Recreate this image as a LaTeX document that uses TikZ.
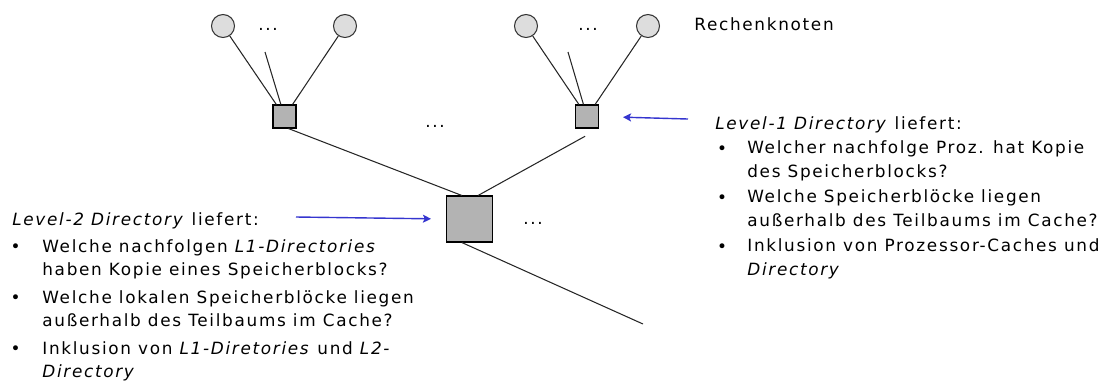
\documentclass[tikz,border=0pt]{standalone}
\usepackage{fontspec}
\setmainfont{DejaVu Sans}[LetterSpace=10]
\usepackage{xcolor}
\usetikzlibrary{arrows.meta, positioning, calc}

\definecolor{procgray}{HTML}{DDDDDD}
\definecolor{dirgray}{HTML}{B3B3B3}
\definecolor{pointblue}{HTML}{3535CF}

\begin{document}
\begin{tikzpicture}[
    x=0.02cm, y=-0.02cm,
    % Define styles for the nodes
    proc_node/.style={circle, draw=black!80, fill=procgray, minimum size=0.46cm, inner sep=0pt, line width=0.6pt},
    dir_node/.style={rectangle, draw=black, fill=dirgray, inner sep=0pt, line width=0.6pt},
    l1_node/.style={dir_node, minimum size=0.46cm},
    l2_node/.style={dir_node, minimum size=0.92cm},
    text_node/.style={inner sep=0pt, anchor=base west, align=left, font=\fontsize{9.6}{13.3}\selectfont},
    bullet_node/.style={inner sep=0pt, anchor=base, font=\fontsize{9.6}{13.3}\selectfont},
    dots_node/.style={inner sep=0pt, anchor=base, font=\fontsize{9.6}{13.3}\selectfont},
    % Styles for lines
    link/.style={line width=0.6pt, black!85},
    pointer/.style={-{Stealth[length=4.6pt, width=4.6pt, inset=1pt]}, line width=0.8pt, pointblue}
]
    \useasboundingbox (0,0) rectangle (1110,387);

    % =========================================================================
    % PROCESSORS (top row)
    % =========================================================================
    \node (proc_a) [proc_node] at (223,26) {};
    \node (proc_b) [proc_node] at (345,26) {};
    \node (dots_a) [dots_node] at (268,30) {...};

    \node (proc_c) [proc_node] at (526,26) {};
    \node (proc_d) [proc_node] at (648,26) {};
    \node (dots_b) [dots_node] at (588,30) {...};

    \node (proc_label) [text_node] at (694,30) {Rechenknoten};

    % =========================================================================
    % DIRECTORIES
    % =========================================================================
    \node (dir_l1a) [l1_node] at (284.5,116.5) {};
    \node (dir_l1b) [l1_node] at (587,116.5) {};
    \node (dots_l1) [dots_node] at (435,127) {...};

    \node (dir_l2) [l2_node] at (469.5,219) {};
    \node (dots_l2) [dots_node] at (533,224.5) {...};

    % loose ends of the tree
    \coordinate (stub_a) at (265,52);
    \coordinate (stub_b) at (568,52);
    \coordinate (root_link) at (643,324);

    \draw [link] (proc_a) -- (dir_l1a);
    \draw [link] (stub_a) -- (dir_l1a);
    \draw [link] (proc_b) -- (dir_l1a);

    \draw [link] (proc_c) -- (dir_l1b);
    \draw [link] (stub_b) -- (dir_l1b);
    \draw [link] (proc_d) -- (dir_l1b);

    \draw [link] (dir_l1a.-72) -- (dir_l2.108);
    \draw [link, shorten >=0.32cm] (dir_l2.70) -- (dir_l1b.south east);
    \draw [link] (dir_l2.-108) -- (root_link);

    % =========================================================================
    % LEVEL-1 TEXT (right)
    % =========================================================================
    \coordinate (l1_from) at (688,119);
    \draw [pointer, shorten >=0.48cm] (l1_from) -- (dir_l1b.east);

    \node (l1_title) [text_node] at (715,129) {\textit{Level-1 Directory} liefert:};
    \node (l1_b1) [bullet_node] at (722,154) {•};
    \node (l1_i1) [text_node] at (747,177) {Welcher nachfolge Proz. hat Kopie\\des Speicherblocks?};
    \node (l1_b2) [bullet_node] at (722,203) {•};
    \node (l1_i2) [text_node] at (747,226) {Welche Speicherblöcke liegen\\außerhalb des Teilbaums im Cache?};
    \node (l1_b3) [bullet_node] at (722,252) {•};
    \node (l1_i3) [text_node] at (747,275) {Inklusion von Prozessor-Caches und\\\textit{Directory}};

    % =========================================================================
    % LEVEL-2 TEXT (left)
    % =========================================================================
    \coordinate (l2_from) at (296,217);
    \draw [pointer, shorten >=0.3cm] (l2_from) -- (dir_l2.west);

    \node (l2_title) [text_node] at (12,225) {\textit{Level-2 Directory} liefert:};
    \node (l2_b1) [bullet_node] at (15.5,252) {•};
    \node (l2_i1) [text_node] at (42,275.5) {Welche nachfolgen \textit{L1-Directories}\\haben Kopie eines Speicherblocks?};
    \node (l2_b2) [bullet_node] at (15.5,303) {•};
    \node (l2_i2) [text_node] at (42,326.5) {Welche lokalen Speicherblöcke liegen\\außerhalb des Teilbaums im Cache?};
    \node (l2_b3) [bullet_node] at (15.5,354) {•};
    \node (l2_i3) [text_node] at (42,377.5) {Inklusion von \textit{L1-Diretories} und \textit{L2-}\\\textit{Directory}};

\end{tikzpicture}
\end{document}
